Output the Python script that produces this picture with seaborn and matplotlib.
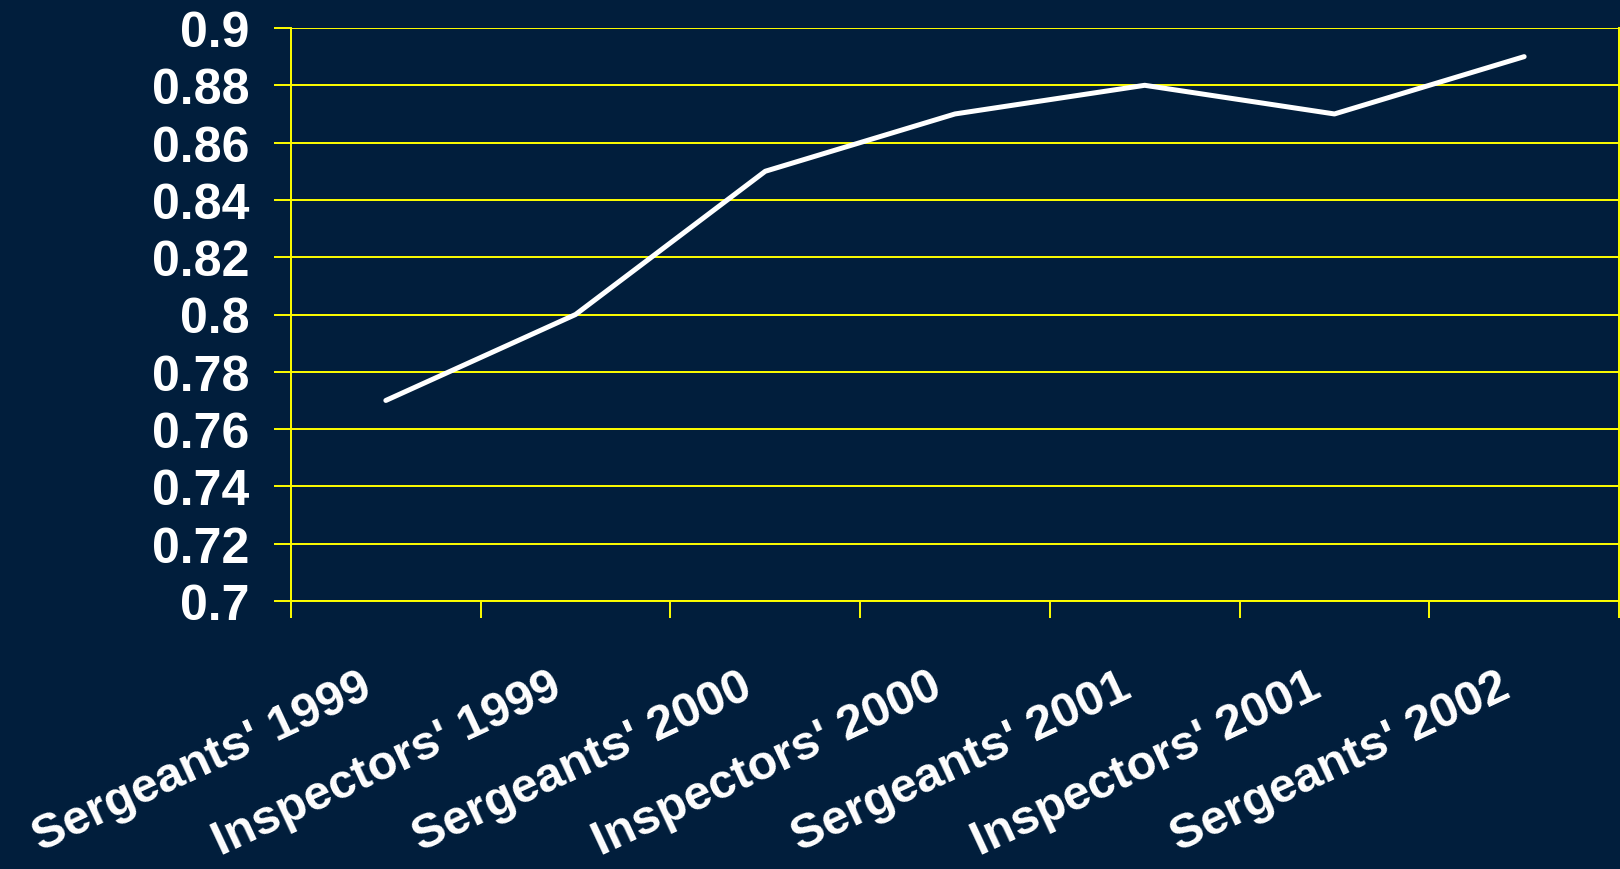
import matplotlib
matplotlib.use("Agg")
import matplotlib.pyplot as plt
import matplotlib.transforms as mtransforms
import seaborn as sns
import pandas as pd
from matplotlib.ticker import FixedLocator

# Survey groups and their scores
groups = ["Sergeants' 1999", "Inspectors' 1999", "Sergeants' 2000",
          "Inspectors' 2000", "Sergeants' 2001", "Inspectors' 2001",
          "Sergeants' 2002"]
scores = [0.77, 0.80, 0.85, 0.87, 0.88, 0.87, 0.89]
y_ticks = [0.70, 0.72, 0.74, 0.76, 0.78, 0.80, 0.82, 0.84, 0.86, 0.88, 0.90]
y_labels = ["0.7", "0.72", "0.74", "0.76", "0.78", "0.8", "0.82", "0.84",
            "0.86", "0.88", "0.9"]

bg = "#011E3C"
yellow = "#FFFF00"

sns.set_theme(style="white")
plt.rcParams["font.family"] = ["Liberation Sans", "DejaVu Sans"]

fig = plt.figure(figsize=(16.2, 8.7), dpi=100, facecolor=bg)
ax = fig.add_axes([291 / 1620, 1 - 602 / 870, (1619 - 291) / 1620, (602 - 29) / 870])
ax.set_facecolor(bg)

df = pd.DataFrame({"group": groups, "score": scores})
sns.lineplot(data=df, x="group", y="score", sort=False, ax=ax, color="white",
             linewidth=3.6, solid_capstyle="round", solid_joinstyle="round",
             zorder=5)

ax.set_xlim(-0.5, len(groups) - 0.5)
ax.set_ylim(0.70, 0.90)

# Horizontal yellow gridlines
ax.yaxis.set_major_locator(FixedLocator(y_ticks))
ax.set_yticklabels(y_labels)
ax.grid(axis="y", color=yellow, linewidth=1.4, zorder=1)
ax.grid(axis="x", visible=False)

# Category labels centred, tick marks between categories
ax.set_xticks(range(len(groups)))
ax.set_xticklabels(groups, rotation=25, ha="right", rotation_mode="anchor")
ax.xaxis.set_minor_locator(FixedLocator([i - 0.5 for i in range(len(groups) + 1)]))
ax.tick_params(axis="x", which="major", length=0, pad=45)
ax.tick_params(axis="x", which="minor", length=12, width=1.4, color=yellow,
               direction="out", bottom=True)
ax.tick_params(axis="y", which="major", length=12, width=1.4, color=yellow,
               direction="out", left=True, pad=18)

shift = mtransforms.ScaledTranslation(-0.26, 0, fig.dpi_scale_trans)
for lbl in ax.get_xticklabels():
    lbl.set_color("white")
    lbl.set_fontweight("bold")
    lbl.set_fontsize(35)
    lbl.set_transform(lbl.get_transform() + shift)
for lbl in ax.get_yticklabels():
    lbl.set_color("white")
    lbl.set_fontweight("bold")
    lbl.set_fontsize(36)

for side in ["left", "bottom", "right"]:
    ax.spines[side].set_color(yellow)
    ax.spines[side].set_linewidth(1.4)
    ax.spines[side].set_visible(True)
ax.spines["top"].set_visible(False)

ax.set_xlabel("")
ax.set_ylabel("")

fig.savefig("out.png", dpi=100, facecolor=bg)
